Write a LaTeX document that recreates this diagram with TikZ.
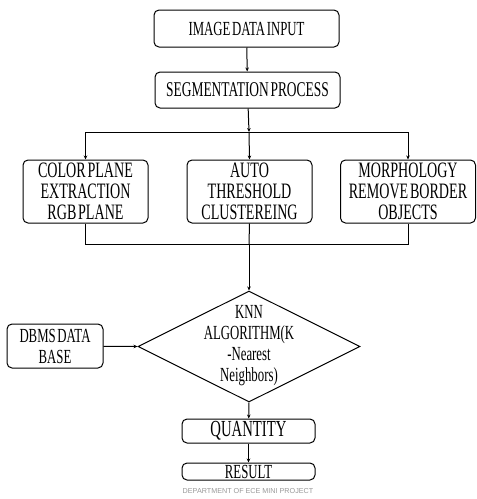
\documentclass[tikz,border=0pt]{standalone}
\usepackage{fontspec}
\setmainfont[FakeStretch=0.64,WordSpace=0.5]{Liberation Serif}
\newfontfamily\footfont{Liberation Sans}
\usetikzlibrary{shapes.geometric,arrows.meta}
\begin{document}
\begin{tikzpicture}[x=1pt,y=-1pt,
  box/.style={draw=black,line width=1pt,rounded corners=5pt,inner sep=0pt,align=center},
  conn/.style={line width=1pt,draw=black},
  arr/.style={conn,-{Stealth[length=4pt,width=3.5pt]}},
  big/.style={font=\fontsize{22}{21}\selectfont},
  mid/.style={font=\fontsize{20}{21}\selectfont}]
\useasboundingbox[fill=white] (0,0) rectangle (477,499);
\node[box,mid,minimum width=185pt,minimum height=37pt] (img) at (246.5,28.5) {IMAGE DATA INPUT};
\node[box,font=\fontsize{21}{21}\selectfont,minimum width=185pt,minimum height=36pt] (seg) at (247.5,90) {SEGMENTATION PROCESS};
\node[box,big,minimum width=125pt,minimum height=63pt] (color) at (85.5,191.5) {COLOR PLANE\\EXTRACTION\\RGB PLANE};
\node[box,big,minimum width=125pt,minimum height=63pt] (auto) at (249.5,191.5) {AUTO\\THRESHOLD\\CLUSTEREING};
\node[box,big,minimum width=135pt,minimum height=63pt] (morph) at (408,191.5) {MORPHOLOGY\\REMOVE BORDER\\OBJECTS};
\node[box,mid,minimum width=96pt,minimum height=44pt] (dbms) at (55,346) {DBMS DATA\\BASE};
\node[draw=black,line width=1pt,diamond,minimum width=222pt,minimum height=111pt,inner sep=0pt] (knn) at (249,346.5) {};
\node[mid,align=center,inner sep=0pt] (knntext) at (249,346) {KNN\\ALGORITHM(K\\-Nearest\\Neighbors)};
\node[box,font=\fontsize{23}{23}\selectfont,minimum width=133pt,minimum height=24pt] (qty) at (248.5,431) {QUANTITY};
\node[box,mid,minimum width=133pt,minimum height=17pt] (res) at (248.5,471.5) {RESULT};
\node[font=\footfont\fontsize{7.2}{8}\selectfont,text=black!40,inner sep=0pt] (foot) at (248,491) {DEPARTMENT OF ECE MINI PROJECT};
% connectors
\draw[arr] (img) -- (seg);
\coordinate (j1) at (249,132);
\coordinate (jl) at (color.north |- j1);
\coordinate (jr) at (morph.north |- j1);
\draw[arr] (seg) -- (j1);
\draw[conn] (jl) -- (jr);
\draw[arr] (jl) -- (color.north);
\draw[arr] (j1) -- (auto.north);
\draw[arr] (jr) -- (morph.north);
\coordinate (k1) at (249,244);
\coordinate (kl) at (color.south |- k1);
\coordinate (kr) at (morph.south |- k1);
\draw[conn] (color.south) -- (kl) -- (kr) -- (morph.south);
\draw[conn] (auto.south) -- (k1);
\draw[arr] (k1) -- (knn.north);
\draw[arr] (dbms) -- (knn.west);
\draw[arr] (knn.south) -- (qty);
\draw[arr] (qty) -- (res);
\end{tikzpicture}
\end{document}
